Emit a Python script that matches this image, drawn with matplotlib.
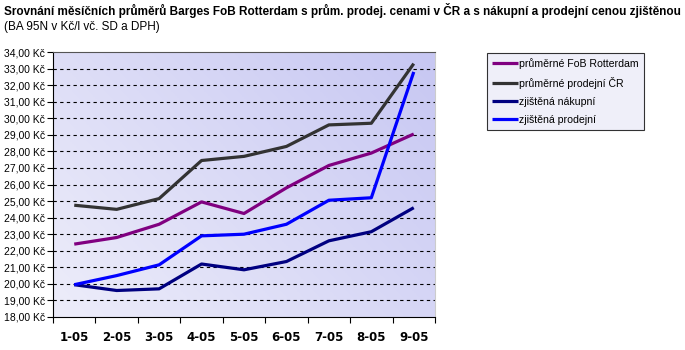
import matplotlib.pyplot as plt
import numpy as np
from matplotlib.ticker import FuncFormatter, FixedLocator

months = ["1-05", "2-05", "3-05", "4-05", "5-05", "6-05", "7-05", "8-05", "9-05"]
rotterdam = [22.4, 22.8, 23.6, 24.95, 24.25, 25.8, 27.15, 27.9, 29.05]
prodej_cr = [24.75, 24.5, 25.15, 27.45, 27.7, 28.3, 29.6, 29.7, 33.3]
nakupni = [19.95, 19.6, 19.7, 21.2, 20.85, 21.35, 22.6, 23.15, 24.6]
prodejni = [19.95, 20.5, 21.15, 22.9, 23.0, 23.6, 25.05, 25.2, 32.8]

names = ["průměrné FoB Rotterdam", "průměrné prodejní ČR", "zjištěná nákupní", "zjištěná prodejní"]
colors = ["#800080", "#333333", "#000080", "#0000ff"]

plt.rcParams['font.family'] = ['Liberation Sans', 'DejaVu Sans']

fig = plt.figure(figsize=(6.85, 3.5), dpi=100)
ax = fig.add_axes([0.0774, 0.0943, 0.5576, 0.757])

# gradient background of plot area
gx, gy = np.meshgrid(np.linspace(0, 1, 200), np.linspace(0, 1, 200))
t = np.clip(0.6 * gx + 0.4 * (1 - gy), 0, 1)
c0 = np.array([0.93, 0.93, 0.98])
c1 = np.array([0.78, 0.78, 0.95])
img = c0[None, None, :] * (1 - t[..., None]) + c1[None, None, :] * t[..., None]
ax.imshow(img, extent=[0, 1, 0, 1], transform=ax.transAxes, aspect='auto', zorder=0)

x = np.arange(len(months))
for vals, name, col in zip([rotterdam, prodej_cr, nakupni, prodejni], names, colors):
    ax.plot(x, vals, color=col, lw=2.3, label=name, zorder=3, solid_capstyle='butt')

ax.set_xlim(-0.5, len(months) - 0.5)
ax.set_ylim(18, 34)
ax.set_yticks(np.arange(18, 35, 1))
ax.yaxis.set_major_formatter(FuncFormatter(lambda v, p: f"{v:.2f}".replace(".", ",") + " Kč"))
for v in range(19, 34):
    ax.axhline(v, color='black', lw=0.8, ls=(0, (3, 3)), zorder=2)

ax.set_xticks(x)
ax.set_xticklabels(months, fontweight='bold', fontsize=8.5, family='DejaVu Sans')
ax.xaxis.set_minor_locator(FixedLocator(np.arange(-0.5, len(months), 1)))
ax.tick_params(axis='x', which='major', length=0, pad=10)
ax.tick_params(axis='x', which='minor', length=4, direction='out', width=0.8)
ax.tick_params(axis='y', length=4, direction='out', width=0.8, labelsize=7.5, pad=2)

ax.spines['top'].set_color('#555555')
ax.spines['right'].set_color('#cccccc')
ax.spines['left'].set_linewidth(0.8)
ax.spines['bottom'].set_linewidth(0.8)

leg = fig.legend(loc='upper left', bbox_to_anchor=(0.711, 0.849), borderaxespad=0, fontsize=7.6,
                 frameon=True, fancybox=False, edgecolor='black', handlelength=2.4,
                 handletextpad=0.1, labelspacing=0.75, borderpad=0.5)
leg.get_frame().set_facecolor('#ececf8')
leg.get_frame().set_linewidth(0.8)

fig.text(0.006, 0.97, "Srovnání měsíčních průměrů Barges FoB Rotterdam s prům. prodej. cenami v ČR a s nákupní a prodejní cenou zjištěnou",
         fontsize=8.5, fontweight='bold', va='center', ha='left')
fig.text(0.006, 0.924, "(BA 95N v Kč/l vč. SD a DPH)", fontsize=8.5, va='center', ha='left')

fig.savefig('out.png', dpi=100, facecolor='white')
